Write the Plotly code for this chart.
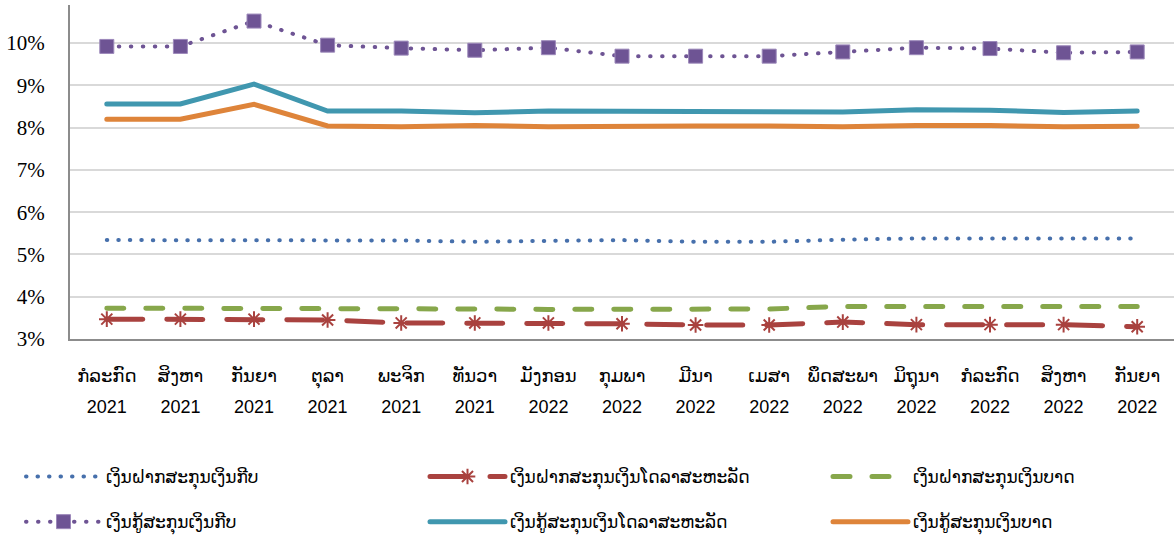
import plotly.graph_objects as go

months = ["ກໍລະກົດ", "ສິງຫາ", "ກັນຍາ", "ຕຸລາ", "ພະຈິກ", "ທັນວາ", "ມັງກອນ", "ກຸມພາ",
          "ມີນາ", "ເມສາ", "ພຶດສະພາ", "ມິຖຸນາ", "ກໍລະກົດ", "ສິງຫາ", "ກັນຍາ"]
years = ["2021"] * 6 + ["2022"] * 9
categories = [f"{m} {y}" for m, y in zip(months, years)]
tick_labels = [f"<span style='font-size:18px'>{m}</span><br><span style='font-size:18px'>{y}</span>"
               for m, y in zip(months, years)]

dep_kip = [5.34, 5.34, 5.34, 5.34, 5.33, 5.30, 5.33, 5.34, 5.30, 5.30, 5.35, 5.38, 5.38, 5.38, 5.38]
dep_usd = [3.47, 3.47, 3.47, 3.45, 3.38, 3.38, 3.38, 3.36, 3.33, 3.33, 3.40, 3.34, 3.34, 3.34, 3.29]
dep_thb = [3.73, 3.73, 3.73, 3.72, 3.71, 3.71, 3.70, 3.71, 3.71, 3.71, 3.77, 3.77, 3.77, 3.77, 3.77]
loan_kip = [9.92, 9.92, 10.52, 9.95, 9.88, 9.83, 9.89, 9.69, 9.69, 9.69, 9.79, 9.89, 9.87, 9.77, 9.79]
loan_usd = [8.56, 8.56, 9.03, 8.39, 8.39, 8.35, 8.39, 8.38, 8.38, 8.38, 8.37, 8.42, 8.41, 8.36, 8.39]
loan_thb = [8.20, 8.20, 8.55, 8.04, 8.02, 8.05, 8.02, 8.04, 8.04, 8.04, 8.02, 8.05, 8.05, 8.02, 8.03]

names = ["ເງິນຝາກສະກຸນເງິນກີບ", "ເງິນຝາກສະກຸນເງິນໂດລາສະຫະລັດ", "ເງິນຝາກສະກຸນເງິນບາດ",
         "ເງິນກູ້ສະກຸນເງິນກີບ", "ເງິນກູ້ສະກຸນເງິນໂດລາສະຫະລັດ", "ເງິນກູ້ສະກຸນເງິນບາດ"]

LAO = "Liberation Sans, DejaVu Sans, sans-serif"

fig = go.Figure()
fig.add_trace(go.Scatter(x=categories, y=dep_kip, name=names[0], mode="lines",
                         line=dict(color="#4770AC", width=4, dash="0.5px,11px"),
                         legend="legend", legendgroup="a"))
fig.add_trace(go.Scatter(x=categories, y=dep_usd, name=names[1], mode="lines+markers",
                         line=dict(color="#A9423F", width=5, dash="36px,24px"),
                         marker=dict(symbol="asterisk-open", size=13, color="#A9423F",
                                     line=dict(width=2, color="#A9423F")),
                         legend="legend2", legendgroup="b"))
fig.add_trace(go.Scatter(x=categories, y=dep_thb, name=names[2], mode="lines",
                         line=dict(color="#87A74B", width=5, dash="17px,22px"),
                         legend="legend3", legendgroup="c"))
fig.add_trace(go.Scatter(x=categories, y=loan_kip, name=names[3], mode="lines+markers",
                         line=dict(color="#6E5494", width=4, dash="0.5px,11.5px"),
                         marker=dict(symbol="square", size=14, color="#6E5494",
                                     line=dict(width=1, color="#9C88BA")),
                         legend="legend", legendgroup="d"))
fig.add_trace(go.Scatter(x=categories, y=loan_usd, name=names[4], mode="lines",
                         line=dict(color="#4097AF", width=5),
                         legend="legend2", legendgroup="e"))
fig.add_trace(go.Scatter(x=categories, y=loan_thb, name=names[5], mode="lines",
                         line=dict(color="#DE843A", width=5),
                         legend="legend3", legendgroup="f"))

legend_common = dict(orientation="v", xref="container", yref="container",
                     xanchor="left", yanchor="top", y=1 - 459 / 540,
                     itemwidth=75, tracegroupgap=20,
                     font=dict(family=LAO, size=17, color="#000000"),
                     bgcolor="rgba(0,0,0,0)", traceorder="grouped")

fig.update_layout(
    width=1176, height=540,
    margin=dict(l=70, r=2, t=5, b=201, autoexpand=False),
    plot_bgcolor="white", paper_bgcolor="white",
    legend=dict(**legend_common, x=21 / 1176),
    legend2=dict(**legend_common, x=425 / 1176),
    legend3=dict(**legend_common, x=828 / 1176),
    showlegend=True,
    xaxis=dict(type="category", tickmode="array", tickvals=categories, ticktext=tick_labels,
               tickfont=dict(family=LAO, size=24, color="#000000"),
               showline=True, linecolor="#8C8C8C", linewidth=2, showgrid=False,
               ticks="outside", ticklen=12, tickcolor="rgba(0,0,0,0)",
               range=[-0.5, 14.5]),
    yaxis=dict(range=[3, 10.9], dtick=1, tick0=3, ticksuffix="%",
               tickfont=dict(family="Liberation Serif, Times New Roman, DejaVu Serif, serif",
                             size=21, color="#000000"),
               showline=True, linecolor="#8C8C8C", linewidth=2,
               showgrid=True, gridcolor="#D9D9D9", gridwidth=2, zeroline=False,
               ticks="outside", ticklen=19, tickcolor="rgba(0,0,0,0)"),
)

post = """
var s = document.createElement('style');
s.textContent = 'html, body { margin: 0 !important; padding: 0 !important; } .js-line { stroke-linecap: round !important; }';
document.head.appendChild(s);
"""
fig.write_html("out.html", post_script=post, config={"displayModeBar": False})
